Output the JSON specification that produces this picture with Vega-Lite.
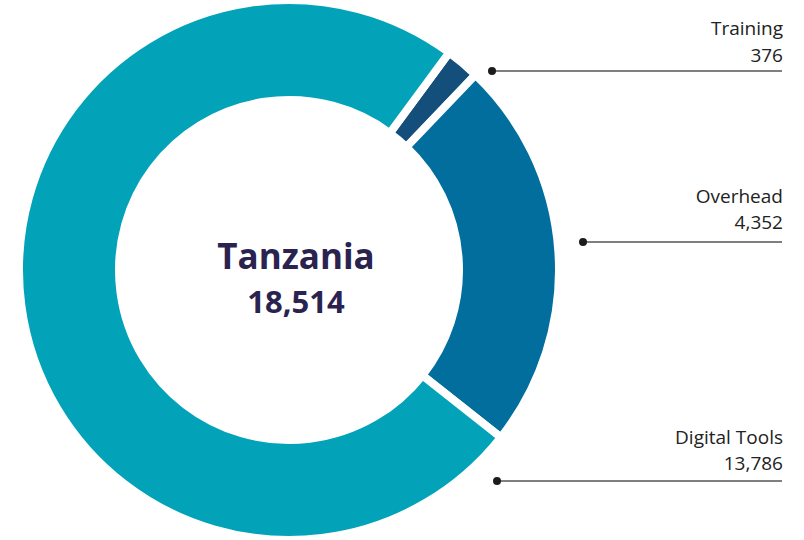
{
  "$schema": "https://vega.github.io/schema/vega-lite/v6.json",
  "width": 804,
  "height": 540,
  "autosize": {"type": "none"},
  "padding": 0,
  "background": "white",
  "config": {"view": {"stroke": null}},
  "datasets": {
    "slices": [
      {"category": "Training", "value": 376, "ord": 1},
      {"category": "Overhead", "value": 4352, "ord": 2},
      {"category": "Digital Tools", "value": 13786, "ord": 3}
    ],
    "labels": [
      {"category": "Training", "value": 376, "dotX": 0.7632, "lineEnd": 1.8534, "lineY": 0.7481, "textX": 1.8571, "nameY": 0.8853, "valY": 0.7838},
      {"category": "Overhead", "value": 4352, "dotX": 1.1053, "lineEnd": 1.8534, "lineY": 0.1053, "textX": 1.8571, "nameY": 0.2537, "valY": 0.1560},
      {"category": "Digital Tools", "value": 13786, "dotX": 0.7820, "lineEnd": 1.8534, "lineY": -0.7932, "textX": 1.8571, "nameY": -0.6523, "valY": -0.7500}
    ],
    "center": [
      {"name": "Tanzania", "total": 18514, "cx": 0.0263, "nameY": 0.0038, "valY": -0.1617}
    ]
  },
  "layer": [
    {
      "data": {"name": "slices"},
      "mark": {"type": "arc", "outerRadius": 270, "innerRadius": 170, "stroke": "white", "strokeWidth": 8},
      "encoding": {
        "x": {"datum": 0, "type": "quantitative", "scale": {"domain": [-1.0865, 1.9361], "nice": false, "zero": false}, "axis": null},
        "y": {"datum": 0, "type": "quantitative", "scale": {"domain": [-1.015, 1.015], "nice": false, "zero": false}, "axis": null},
        "theta": {"field": "value", "type": "quantitative", "stack": true, "scale": {"range": [0.635, 6.9182]}},
        "order": {"field": "ord", "type": "quantitative"},
        "color": {"field": "category", "type": "nominal", "legend": null,
          "scale": {"domain": ["Training", "Overhead", "Digital Tools"], "range": ["#144E7A", "#016E9D", "#02A3B9"]}}
      }
    },
    {
      "data": {"name": "labels"},
      "mark": {"type": "rule", "stroke": "#555555", "strokeWidth": 1.5},
      "encoding": {
        "x": {"field": "dotX", "type": "quantitative", "axis": null, "scale": {"domain": [-1.0865, 1.9361], "nice": false, "zero": false}},
        "x2": {"field": "lineEnd"},
        "y": {"field": "lineY", "type": "quantitative", "axis": null, "scale": {"domain": [-1.015, 1.015], "nice": false, "zero": false}}
      }
    },
    {
      "data": {"name": "labels"},
      "mark": {"type": "point", "filled": true, "fill": "#1c1c1c", "size": 64, "opacity": 1},
      "encoding": {
        "x": {"field": "dotX", "type": "quantitative", "axis": null, "scale": {"domain": [-1.0865, 1.9361], "nice": false, "zero": false}},
        "y": {"field": "lineY", "type": "quantitative", "axis": null, "scale": {"domain": [-1.015, 1.015], "nice": false, "zero": false}}
      }
    },
    {
      "data": {"name": "labels"},
      "mark": {"type": "text", "align": "right", "baseline": "alphabetic", "font": "Open Sans", "fontSize": 19, "fill": "#222222"},
      "encoding": {
        "x": {"field": "textX", "type": "quantitative", "axis": null, "scale": {"domain": [-1.0865, 1.9361], "nice": false, "zero": false}},
        "y": {"field": "nameY", "type": "quantitative", "axis": null, "scale": {"domain": [-1.015, 1.015], "nice": false, "zero": false}},
        "text": {"field": "category", "type": "nominal"}
      }
    },
    {
      "data": {"name": "labels"},
      "mark": {"type": "text", "align": "right", "baseline": "alphabetic", "font": "Open Sans", "fontSize": 19, "fill": "#222222"},
      "encoding": {
        "x": {"field": "textX", "type": "quantitative", "axis": null, "scale": {"domain": [-1.0865, 1.9361], "nice": false, "zero": false}},
        "y": {"field": "valY", "type": "quantitative", "axis": null, "scale": {"domain": [-1.015, 1.015], "nice": false, "zero": false}},
        "text": {"field": "value", "type": "quantitative", "format": ","}
      }
    },
    {
      "data": {"name": "center"},
      "mark": {"type": "text", "align": "center", "baseline": "alphabetic", "font": "Open Sans", "fontWeight": "bold", "fontSize": 35, "fill": "#2A2350"},
      "encoding": {
        "x": {"field": "cx", "type": "quantitative", "axis": null, "scale": {"domain": [-1.0865, 1.9361], "nice": false, "zero": false}},
        "y": {"field": "nameY", "type": "quantitative", "axis": null, "scale": {"domain": [-1.015, 1.015], "nice": false, "zero": false}},
        "text": {"field": "name", "type": "nominal"}
      }
    },
    {
      "data": {"name": "center"},
      "mark": {"type": "text", "align": "center", "baseline": "alphabetic", "font": "Open Sans", "fontWeight": "bold", "fontSize": 31, "fill": "#2A2350"},
      "encoding": {
        "x": {"field": "cx", "type": "quantitative", "axis": null, "scale": {"domain": [-1.0865, 1.9361], "nice": false, "zero": false}},
        "y": {"field": "valY", "type": "quantitative", "axis": null, "scale": {"domain": [-1.015, 1.015], "nice": false, "zero": false}},
        "text": {"field": "total", "type": "quantitative", "format": ","}
      }
    }
  ]
}
